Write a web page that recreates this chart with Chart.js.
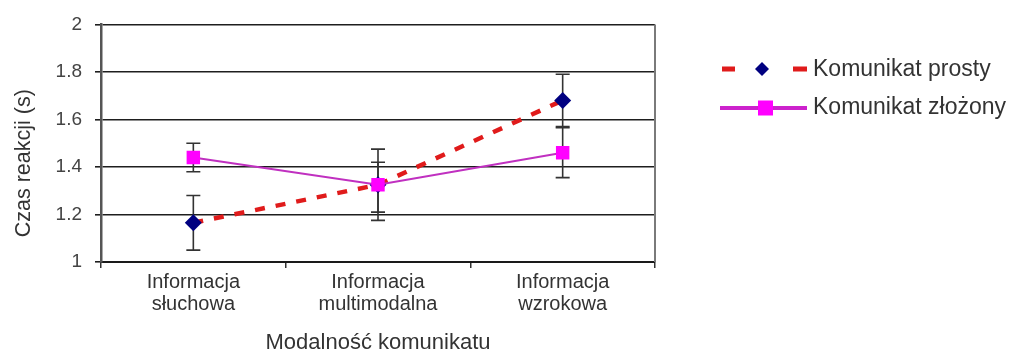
<!DOCTYPE html>
<html lang="pl">
<head>
<meta charset="utf-8">
<title>Czas reakcji a modalność komunikatu</title>
<script src="https://cdn.jsdelivr.net/npm/chart.js@4.4.1/dist/chart.umd.min.js"></script>
<style>
  html, body { margin: 0; padding: 0; background: #ffffff; }
  #wrap { position: relative; width: 1019px; height: 356px; }
</style>
</head>
<body>
<div id="wrap"><canvas id="chart"></canvas></div>
<script>
// Categories (two-line axis labels)
const categories = [
  ['Informacja', 'słuchowa'],
  ['Informacja', 'multimodalna'],
  ['Informacja', 'wzrokowa']
];

// Mean reaction times (s)
const prostyValues  = [1.165, 1.325, 1.68];
const zlozonyValues = [1.44, 1.325, 1.46];

// Error bar bounds (s)
const prostyLow   = [1.05, 1.175, 1.57];
const prostyHigh  = [1.28, 1.475, 1.79];
const zlozonyLow  = [1.38, 1.21, 1.355];
const zlozonyHigh = [1.50, 1.42, 1.565];

// Y axis
const yMin = 1, yMax = 2, yStep = 0.2;

const seriesNames = ['Komunikat prosty', 'Komunikat złożony'];
const yTitle = 'Czas reakcji (s)';
const xTitle = 'Modalność komunikatu';

const FONT = 'Arial, "Liberation Sans", sans-serif';
const TEXT = '#333333';

// Vertical error bars with caps, drawn beneath the markers
const errorBars = {
  id: 'errorBars',
  beforeDatasetsDraw(chart) {
    const { ctx, scales: { x, y } } = chart;
    const sets = [[prostyLow, prostyHigh], [zlozonyLow, zlozonyHigh]];
    ctx.save();
    ctx.strokeStyle = '#333333';
    ctx.lineWidth = 1.6;
    sets.forEach(([lo, hi]) => {
      lo.forEach((l, i) => {
        const px = x.getPixelForValue(i);
        const py1 = y.getPixelForValue(l);
        const py2 = y.getPixelForValue(hi[i]);
        ctx.beginPath();
        ctx.moveTo(px, py1); ctx.lineTo(px, py2);
        ctx.moveTo(px - 7, py1); ctx.lineTo(px + 7, py1);
        ctx.moveTo(px - 7, py2); ctx.lineTo(px + 7, py2);
        ctx.stroke();
      });
    });
    ctx.restore();
  }
};

// Right frame edge, vertical axis title and the legend beside the plot
const frameAndLegend = {
  id: 'frameAndLegend',
  afterDraw(chart) {
    const { ctx, chartArea: a } = chart;
    ctx.save();
    ctx.strokeStyle = '#7a7a7a';
    ctx.lineWidth = 2;
    ctx.beginPath();
    ctx.moveTo(a.right, a.top);
    ctx.lineTo(a.right, a.bottom);
    ctx.stroke();

    // Vertical axis title, sitting a little below the plot's middle
    ctx.save();
    ctx.translate(24, (a.top + a.bottom) / 2 + 20);
    ctx.rotate(-Math.PI / 2);
    ctx.fillStyle = TEXT;
    ctx.font = '21.5px ' + FONT;
    ctx.textAlign = 'center';
    ctx.textBaseline = 'middle';
    ctx.fillText(yTitle, 0, 0);
    ctx.restore();

    // Row 1: dashed red line with navy diamond
    const r1 = 69;
    ctx.fillStyle = '#e01b1b';
    ctx.fillRect(722, r1 - 2.5, 13, 5);
    ctx.fillRect(793, r1 - 2.5, 14, 5);
    ctx.fillStyle = '#000080';
    ctx.beginPath();
    ctx.moveTo(762, r1 - 7); ctx.lineTo(769, r1); ctx.lineTo(762, r1 + 7); ctx.lineTo(755, r1);
    ctx.closePath();
    ctx.fill();

    // Row 2: magenta line with square
    const r2 = 108;
    ctx.strokeStyle = '#cc22cc';
    ctx.lineWidth = 4;
    ctx.beginPath();
    ctx.moveTo(720, r2); ctx.lineTo(807, r2);
    ctx.stroke();
    ctx.fillStyle = '#ff00ff';
    ctx.fillRect(758, r2 - 7.5, 15, 15);

    ctx.fillStyle = TEXT;
    ctx.font = '23px ' + FONT;
    ctx.textBaseline = 'middle';
    ctx.textAlign = 'left';
    ctx.fillText(seriesNames[0], 813, r1 + 1);
    ctx.fillText(seriesNames[1], 813, r2);
    ctx.restore();
  }
};

new Chart(document.getElementById('chart'), {
  type: 'line',
  data: {
    labels: categories,
    datasets: [
      {
        label: seriesNames[0],
        data: prostyValues,
        borderColor: '#e01b1b',
        borderWidth: 4.5,
        borderDash: [10, 11],
        pointStyle: 'rectRot',
        pointRadius: 8.5,
        pointHoverRadius: 8.5,
        pointBackgroundColor: '#000080',
        pointBorderColor: '#000080',
        pointBorderWidth: 0,
        tension: 0,
        order: 1
      },
      {
        label: seriesNames[1],
        data: zlozonyValues,
        borderColor: '#c030c0',
        borderWidth: 2,
        pointStyle: 'rect',
        pointRadius: 9.5,
        pointHoverRadius: 9.5,
        pointBackgroundColor: '#ff00ff',
        pointBorderColor: '#e000e0',
        pointBorderWidth: 0,
        tension: 0,
        order: 0
      }
    ]
  },
  options: {
    responsive: true,
    maintainAspectRatio: false,
    animation: false,
    events: [],
    layout: { padding: { top: 22, right: 364, left: 0, bottom: 0 } },
    plugins: { legend: { display: false }, tooltip: { enabled: false } },
    scales: {
      x: {
        type: 'category',
        offset: true,
        grid: {
          offset: true,
          drawOnChartArea: false,
          drawTicks: true,
          tickLength: 6,
          color: '#333333',
          lineWidth: 1.5
        },
        border: { display: true, color: '#1a1a1a', width: 2 },
        ticks: {
          color: TEXT,
          font: { family: FONT, size: 20, lineHeight: 1.12 },
          padding: 3,
          maxRotation: 0,
          autoSkip: false
        },
        title: {
          display: true,
          text: xTitle,
          color: TEXT,
          font: { family: FONT, size: 22, lineHeight: 1.2 },
          padding: { top: 0, bottom: 0 }
        },
        afterFit(scale) { scale.height = 94; }
      },
      y: {
        min: yMin,
        max: yMax,
        grid: {
          color: '#1e1e1e',
          lineWidth: 1.6,
          drawTicks: true,
          tickLength: 6
        },
        border: { display: true, color: '#555555', width: 2.5 },
        ticks: {
          stepSize: yStep,
          color: '#444444',
          font: { family: FONT, size: 19 },
          padding: 13,
          callback: v => String(Number(v.toFixed(1)))
        },
        title: { display: false },
        afterFit(scale) { scale.width = 101; }
      }
    }
  },
  plugins: [errorBars, frameAndLegend]
});
</script>
</body>
</html>
